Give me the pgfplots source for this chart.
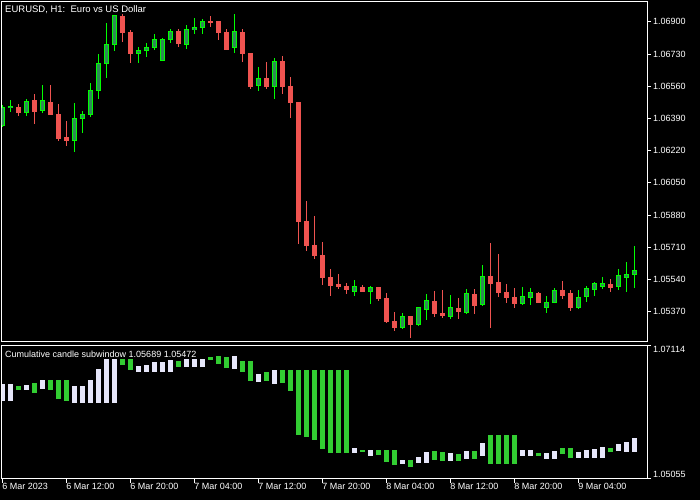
\documentclass[border=0pt]{standalone}
\usepackage{pgfplots}
\pgfplotsset{compat=1.18}
\usepackage{pgfplotstable}
\usepackage{fontspec}
\setmainfont{Liberation Sans}
\definecolor{bullfill}{RGB}{46,139,87}
\definecolor{bullline}{RGB}{0,255,0}
\definecolor{bear}{RGB}{239,83,80}
\definecolor{subgreen}{RGB}{50,205,50}
\definecolor{subwhite}{RGB}{230,230,250}

% candle index, open, high, low, close
\pgfplotstableread{
i o h l c
0 1.06356 1.06462 1.06346 1.06451
1 1.06448 1.06488 1.06425 1.06456
3 1.06421 1.06492 1.06405 1.06483
5 1.06432 1.06567 1.06421 1.06483
9 1.06273 1.06472 1.06215 1.06388
10 1.06389 1.06430 1.06315 1.06414
11 1.06410 1.06578 1.06395 1.06541
12 1.06537 1.06731 1.06495 1.06683
13 1.06680 1.06895 1.06606 1.06784
14 1.06780 1.06937 1.06748 1.06932
17 1.06732 1.06768 1.06682 1.06752
18 1.06748 1.06789 1.06713 1.06768
19 1.06764 1.06838 1.06752 1.06805
20 1.06699 1.06817 1.06694 1.06810
21 1.06806 1.06863 1.06791 1.06852
23 1.06780 1.06884 1.06759 1.06863
24 1.06859 1.06921 1.06838 1.06873
25 1.06870 1.06916 1.06838 1.06905
29 1.06764 1.06942 1.06738 1.06852
32 1.06564 1.06662 1.06537 1.06604
34 1.06558 1.06710 1.06495 1.06694
44 1.05476 1.05538 1.05455 1.05506
46 1.05476 1.05506 1.05413 1.05501
50 1.05286 1.05363 1.05281 1.05348
52 1.05302 1.05395 1.05296 1.05395
53 1.05381 1.05464 1.05328 1.05432
56 1.05344 1.05458 1.05333 1.05390
58 1.05365 1.05490 1.05360 1.05464
60 1.05407 1.05617 1.05402 1.05559
65 1.05416 1.05501 1.05406 1.05453
66 1.05448 1.05495 1.05406 1.05474
68 1.05390 1.05453 1.05363 1.05421
69 1.05421 1.05495 1.05416 1.05485
72 1.05395 1.05485 1.05385 1.05448
73 1.05448 1.05506 1.05421 1.05490
74 1.05485 1.05527 1.05453 1.05517
75 1.05506 1.05553 1.05490 1.05517
77 1.05501 1.05596 1.05485 1.05559
78 1.05553 1.05633 1.05474 1.05569
79 1.05569 1.05717 1.05495 1.05590
}\bull

\pgfplotstableread{
i o h l c
2 1.06451 1.06467 1.06405 1.06421
4 1.06483 1.06520 1.06361 1.06426
6 1.06477 1.06567 1.06410 1.06410
7 1.06414 1.06465 1.06273 1.06284
8 1.06289 1.06377 1.06247 1.06273
15 1.06932 1.06942 1.06796 1.06843
16 1.06847 1.06859 1.06682 1.06732
22 1.06852 1.06863 1.06769 1.06785
26 1.06905 1.06932 1.06875 1.06896
27 1.06900 1.06900 1.06806 1.06843
28 1.06847 1.06863 1.06754 1.06754
30 1.06847 1.06863 1.06690 1.06732
31 1.06731 1.06731 1.06548 1.06558
33 1.06604 1.06689 1.06548 1.06558
35 1.06694 1.06720 1.06521 1.06558
36 1.06562 1.06609 1.06395 1.06474
37 1.06477 1.06477 1.05729 1.05845
38 1.05849 1.05955 1.05692 1.05719
39 1.05722 1.05876 1.05650 1.05666
40 1.05670 1.05738 1.05513 1.05550
41 1.05553 1.05596 1.05455 1.05508
42 1.05517 1.05569 1.05492 1.05502
43 1.05506 1.05522 1.05465 1.05486
45 1.05501 1.05511 1.05476 1.05476
47 1.05501 1.05501 1.05428 1.05439
48 1.05443 1.05469 1.05312 1.05317
49 1.05321 1.05369 1.05270 1.05286
51 1.05348 1.05348 1.05233 1.05302
54 1.05427 1.05480 1.05344 1.05360
55 1.05363 1.05485 1.05339 1.05349
57 1.05390 1.05443 1.05333 1.05370
59 1.05464 1.05490 1.05360 1.05402
61 1.05559 1.05733 1.05286 1.05518
62 1.05522 1.05675 1.05449 1.05471
63 1.05474 1.05517 1.05416 1.05443
64 1.05448 1.05495 1.05390 1.05416
67 1.05469 1.05474 1.05421 1.05421
70 1.05485 1.05532 1.05437 1.05458
71 1.05464 1.05485 1.05374 1.05395
76 1.05517 1.05543 1.05474 1.05501
}\bear

% subwindow: candle index, low, high
\pgfplotstableread{
i lo hi
2 1.06422 1.06485
4 1.06375 1.06532
6 1.06422 1.06579
7 1.06281 1.06579
8 1.06249 1.06579
15 1.06815 1.06910
16 1.06737 1.06910
22 1.06784 1.06878
26 1.06894 1.06941
27 1.06831 1.06957
28 1.06768 1.06941
30 1.06705 1.06878
31 1.06564 1.06878
33 1.06564 1.06705
35 1.06532 1.06737
36 1.06407 1.06737
37 1.05731 1.06737
38 1.05699 1.06737
39 1.05652 1.06737
40 1.05511 1.06737
41 1.05448 1.06737
42 1.05448 1.06737
43 1.05448 1.06737
45 1.05464 1.05495
47 1.05416 1.05495
48 1.05306 1.05495
49 1.05259 1.05495
51 1.05228 1.05338
54 1.05338 1.05479
55 1.05322 1.05464
57 1.05322 1.05432
59 1.05353 1.05479
61 1.05275 1.05731
62 1.05275 1.05731
63 1.05275 1.05731
64 1.05275 1.05731
67 1.05401 1.05448
70 1.05432 1.05526
71 1.05369 1.05526
76 1.05464 1.05526
}\subgreen

\pgfplotstableread{
i lo hi
0 1.06254 1.06517
1 1.06254 1.06517
3 1.06422 1.06501
5 1.06438 1.06579
9 1.06223 1.06485
10 1.06223 1.06485
11 1.06223 1.06579
12 1.06223 1.06752
13 1.06223 1.06910
14 1.06223 1.06910
17 1.06705 1.06800
18 1.06705 1.06815
19 1.06705 1.06862
20 1.06705 1.06862
21 1.06705 1.06894
23 1.06784 1.06910
24 1.06784 1.06910
25 1.06784 1.06910
29 1.06752 1.06957
32 1.06548 1.06674
34 1.06517 1.06737
44 1.05448 1.05526
46 1.05401 1.05495
50 1.05275 1.05338
52 1.05291 1.05385
53 1.05291 1.05464
56 1.05322 1.05448
58 1.05353 1.05479
60 1.05401 1.05605
65 1.05401 1.05495
66 1.05401 1.05495
68 1.05353 1.05448
69 1.05353 1.05479
72 1.05369 1.05464
73 1.05369 1.05495
74 1.05369 1.05511
75 1.05369 1.05542
77 1.05479 1.05589
78 1.05464 1.05621
79 1.05472 1.05689
}\subwhite

\tikzset{mtfont/.style={font=\fontsize{9}{10}\selectfont}}
\pgfplotsset{
  vbar/.style 2 args={draw=none, mark=none, forget plot,
    error bars/.cd, y dir=both, y explicit, error mark=none,
    error bar style={line width=#1, draw=#2, line cap=butt}},
  mtaxis/.style={scale only axis, anchor=south west,
    xmin=-0.09, xmax=80.54,
    axis line style={white, line width=1pt},
    tick style={white, line width=1pt},
    tick align=outside, major tick length=4pt,
    tick label style={white, mtfont},
    axis background/.style={fill=black}},
}

\begin{document}
\begin{tikzpicture}
\useasboundingbox (0,0) rectangle (700pt,500pt);
\fill[black] (0,0) rectangle (700pt,500pt);

\begin{axis}[mtaxis, at={(2pt,158pt)}, width=645pt, height=340pt,
  ymin=1.05210, ymax=1.07005,
  xtick=\empty,
  ytick pos=right, yticklabel pos=right,
  ytick={1.06900,1.06730,1.06560,1.06390,1.06220,1.06050,1.05880,1.05710,1.05540,1.05370},
  yticklabels={1.06900,1.06730,1.06560,1.06390,1.06220,1.06050,1.05880,1.05710,1.05540,1.05370},
  yticklabel style={anchor=west, inner sep=0pt, xshift=2pt},
]
% wicks
\addplot[vbar={1pt}{bullline}] table[x=i, y expr={(\thisrow{h}+\thisrow{l})/2}, y error expr={(\thisrow{h}-\thisrow{l})/2}] {\bull};
\addplot[vbar={1pt}{bear}] table[x=i, y expr={(\thisrow{h}+\thisrow{l})/2}, y error expr={(\thisrow{h}-\thisrow{l})/2}] {\bear};
% bodies
\addplot[vbar={5pt}{bullline}] table[x=i, y expr={(\thisrow{o}+\thisrow{c})/2}, y error expr={abs(\thisrow{c}-\thisrow{o})/2+0.0000264}] {\bull};
\addplot[vbar={3pt}{bullfill}] table[x=i, y expr={(\thisrow{o}+\thisrow{c})/2}, y error expr={max(abs(\thisrow{c}-\thisrow{o})/2-0.0000264,0)}] {\bull};
\addplot[vbar={5pt}{bear}] table[x=i, y expr={(\thisrow{o}+\thisrow{c})/2}, y error expr={abs(\thisrow{c}-\thisrow{o})/2+0.0000264}] {\bear};
\end{axis}

\begin{axis}[mtaxis, at={(2pt,21.5pt)}, width=645pt, height=133pt,
  ymin=1.05055, ymax=1.07114,
  xtick={0,8,16,24,32,40,48,56,64,72},
  xticklabels={6 Mar 2023,6 Mar 12:00,6 Mar 20:00,7 Mar 04:00,7 Mar 12:00,7 Mar 20:00,8 Mar 04:00,8 Mar 12:00,8 Mar 20:00,9 Mar 04:00},
  xtick pos=bottom,
  xticklabel style={anchor=north west, inner sep=0pt, xshift=-0.5pt, yshift=-1pt},
  ytick pos=right, yticklabel pos=right,
  ytick={1.07114}, yticklabels={1.07114},
  yticklabel style={anchor=north west, inner sep=0pt, xshift=2pt, yshift=-1pt},
  extra y ticks={1.05055}, extra y tick labels={1.05055},
  extra y tick style={yticklabel style={anchor=south west, yshift=2pt}},
]
\addplot[vbar={5pt}{subgreen}] table[x=i, y expr={(\thisrow{lo}+\thisrow{hi})/2}, y error expr={max((\thisrow{hi}-\thisrow{lo})/2,0.00008)}] {\subgreen};
\addplot[vbar={5pt}{subwhite}] table[x=i, y expr={(\thisrow{lo}+\thisrow{hi})/2}, y error expr={max((\thisrow{hi}-\thisrow{lo})/2,0.00008)}] {\subwhite};
\end{axis}

\node[anchor=west, white, font=\fontsize{9.5}{10}\selectfont, inner sep=0pt] at (5pt,490pt) {EURUSD, H1:\ \ Euro vs US Dollar};
\node[anchor=west, white, mtfont, inner sep=0pt] at (5pt,146pt) {Cumulative candle subwindow 1.05689 1.05472};
\end{tikzpicture}
\end{document}
